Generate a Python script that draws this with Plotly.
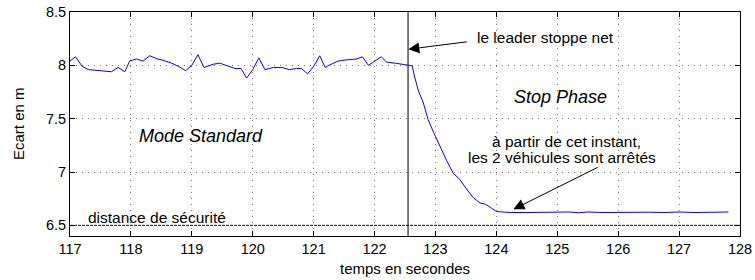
import plotly.graph_objects as go

# ---- data ----
temps = [117.00, 117.09, 117.20, 117.30, 117.68, 117.79, 117.90, 117.98, 118.09, 118.20,
         118.31, 118.43, 118.51, 118.67, 118.78, 118.90, 119.00, 119.10, 119.20, 119.35,
         119.46, 119.57, 119.71, 119.81, 119.90, 120.00, 120.10, 120.20, 120.34, 120.48,
         120.60, 120.72, 120.80, 120.90, 121.00, 121.10, 121.19, 121.25, 121.40, 121.52,
         121.71, 121.80, 121.90, 122.11, 122.20, 122.34, 122.53, 122.62, 122.65, 122.72,
         122.80, 122.88, 122.97, 123.08, 123.19, 123.29, 123.40, 123.51, 123.62, 123.73,
         123.81, 123.90, 124.00, 124.10, 124.25, 124.50, 124.75, 125.00, 125.20, 125.35,
         125.50, 125.75, 126.00, 126.25, 126.50, 126.75, 127.00, 127.25, 127.50, 127.81]
ecart = [8.04, 8.08, 7.99, 7.96, 7.94, 7.98, 7.94, 8.04, 8.06, 8.04,
         8.09, 8.06, 8.05, 8.02, 7.99, 7.95, 8.00, 8.10, 7.98, 8.01,
         8.02, 8.00, 7.97, 7.97, 7.88, 7.96, 8.07, 7.96, 7.98, 7.98,
         7.96, 7.97, 7.97, 7.92, 7.99, 8.09, 7.98, 8.00, 8.04, 8.05,
         8.06, 8.08, 8.00, 8.08, 8.03, 8.02, 8.00, 7.995, 7.91, 7.76,
         7.65, 7.49, 7.37, 7.23, 7.10, 6.99, 6.93, 6.84, 6.76, 6.71,
         6.70, 6.67, 6.63, 6.625, 6.62, 6.62, 6.622, 6.62, 6.625, 6.618,
         6.625, 6.62, 6.622, 6.62, 6.623, 6.62, 6.625, 6.62, 6.622, 6.625]

distance_securite = 6.5
instant_arret = 122.55
x_ticks = [117, 118, 119, 120, 121, 122, 123, 124, 125, 126, 127, 128]
y_ticks = [6.5, 7, 7.5, 8, 8.5]
y_tick_labels = ["6.5", "7", "7.5", "8", "8.5"]

FONT = "Liberation Sans, Arial, sans-serif"

fig = go.Figure()

# safety distance line
fig.add_trace(go.Scatter(x=[x_ticks[0], x_ticks[-1]], y=[distance_securite, distance_securite],
                         mode="lines", line=dict(color="#111111", width=1, dash="3px,1px"),
                         hoverinfo="skip", showlegend=False))
# stop instant vertical line
fig.add_trace(go.Scatter(x=[instant_arret, instant_arret], y=[6.4, 8.5],
                         mode="lines", line=dict(color="#222222", width=1.2),
                         hoverinfo="skip", showlegend=False))
# gap curve
fig.add_trace(go.Scatter(x=temps, y=ecart, mode="lines",
                         line=dict(color="#0000ff", width=1), showlegend=False))

txt = dict(family=FONT, size=15.5, color="black")
ital = dict(family=FONT, size=18, color="black", style="italic")

annos = [
    dict(x=124.81, y=8.257, text="le leader stoppe net", font=txt),
    dict(x=125.05, y=7.706, text="Stop Phase", font=ital),
    dict(x=119.15, y=7.34, text="Mode Standard", font=ital),
    dict(x=125.15, y=7.29, text="à partir de cet instant,", font=txt),
    dict(x=125.08, y=7.14, text="les 2 véhicules sont arrêtés", font=txt),
    dict(x=117.27, y=6.575, text="distance de sécurité", font=txt, xanchor="left"),
    # arrows
    dict(x=122.555, y=8.151, ax=123.54, ay=8.222, text=""),
    dict(x=124.28, y=6.650, ax=125.69, ay=7.051, text=""),
]
for a in annos:
    base = dict(xref="x", yref="y", showarrow=False)
    if "ax" in a:
        base.update(showarrow=True, axref="x", ayref="y", arrowhead=2,
                    arrowsize=2.2, arrowwidth=1, arrowcolor="black", standoff=0)
    base.update(a)
    fig.add_annotation(**base)

# axis titles placed as paper annotations
fig.add_annotation(xref="paper", yref="paper", x=0.5, y=-0.143, yanchor="middle",
                   text="temps en secondes", showarrow=False,
                   font=dict(family=FONT, size=15, color="black"))
fig.add_annotation(xref="paper", yref="paper", x=-0.0776, y=0.5, xanchor="center",
                   yanchor="middle", textangle=-90, text="Ecart en m", showarrow=False,
                   font=dict(family=FONT, size=15, color="black"))

axis_common = dict(showline=True, linecolor="black", linewidth=1, mirror="ticks",
                   ticks="inside", ticklen=5, tickcolor="black", automargin=False,
                   ticklabeloverflow="allow",
                   showgrid=True, gridcolor="#777777", griddash="1px,5px", gridwidth=1,
                   zeroline=False, tickfont=dict(family=FONT, size=14.5, color="black"))

fig.update_xaxes(range=[117, 128], tickvals=x_ticks, ticktext=[str(v) for v in x_ticks],
                 **axis_common)
fig.update_yaxes(range=[6.4, 8.5], tickvals=y_ticks, ticktext=y_tick_labels,
                 **axis_common)

fig.update_layout(width=755, height=280, margin=dict(l=70, r=15, t=12, b=44),
                  paper_bgcolor="white", plot_bgcolor="white",
                  font=dict(family=FONT, size=15, color="black"))

# remove the browser's default 8px body margin so the figure fills the window exactly
fig.write_html("out.html", config={"displayModeBar": False},
               post_script="document.body.style.margin='0';document.body.style.overflow='hidden';")
